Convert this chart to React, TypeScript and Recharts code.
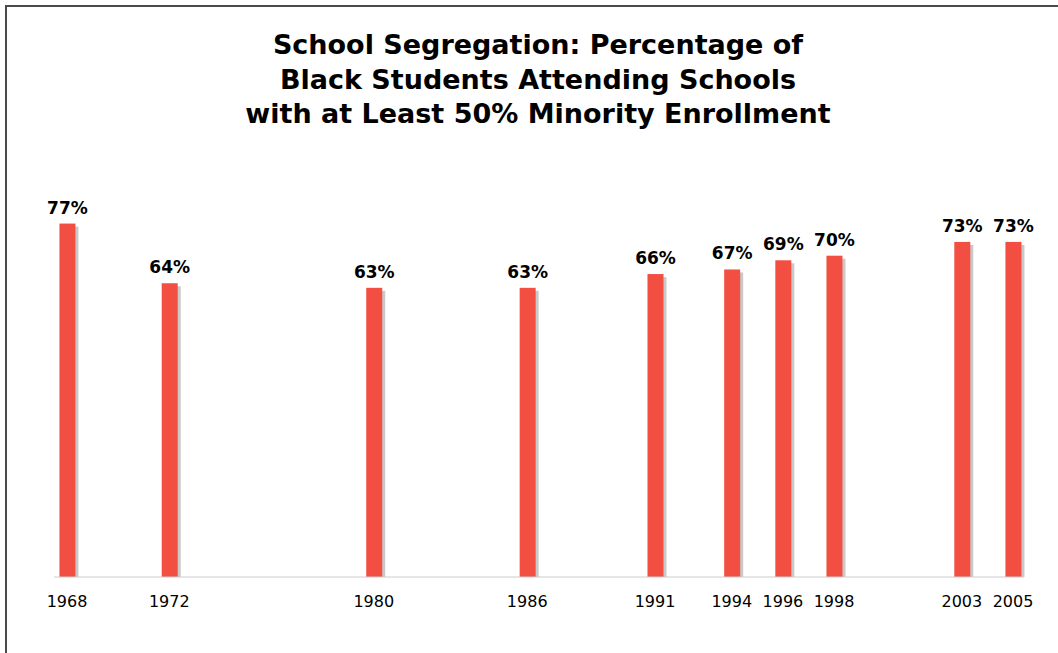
import { BarChart, Bar, XAxis, YAxis, LabelList } from "recharts";

const years = [1968, 1972, 1980, 1986, 1991, 1994, 1996, 1998, 2003, 2005];
const percents = [77, 64, 63, 63, 66, 67, 69, 70, 73, 73];
const titleLines = [
  "School Segregation: Percentage of",
  "Black Students Attending Schools",
  "with at Least 50% Minority Enrollment",
];

const data = years.map((year, i) => ({ year, pct: percents[i] }));

const font = "'DejaVu Sans', Verdana, sans-serif";

function ShadowBar(props: any) {
  const { x, y, width, height } = props;
  if (!height) return null;
  return (
    <g>
      <rect x={x + 3} y={y + 3} width={width} height={height - 3} fill="#c9c9c9" />
      <rect x={x} y={y} width={width} height={height} fill="#f24e42" />
    </g>
  );
}

export default function App() {
  return (
    <div style={{ position: "relative", width: 1058, height: 653, overflow: "hidden", background: "#fff", fontFamily: font }}>
      <style>{`body{margin:0}`}</style>
      <div
        style={{
          position: "absolute",
          left: 5,
          top: 5,
          width: 1200,
          height: 800,
          borderLeft: "2px solid #4a4a4a",
          borderTop: "2px solid #4a4a4a",
        }}
      />
      <div style={{ position: "absolute", left: 0, top: 28, width: 1076, textAlign: "center" }}>
        {titleLines.map((t) => (
          <div key={t} style={{ fontSize: 27, fontWeight: "bold", lineHeight: "34.5px", color: "#000" }}>
            {t}
          </div>
        ))}
      </div>
      <div style={{ position: "absolute", left: 0, top: 0 }}>
        <BarChart width={1058} height={653} data={data} margin={{ top: 118, right: 34, bottom: 46, left: 54 }}>
          <XAxis
            dataKey="year"
            type="number"
            domain={[1968, 2005]}
            ticks={years}
            padding={{ left: 13, right: 11 }}
            tickLine={false}
            stroke="#cccccc"
            height={30}
            tickMargin={13}
            tick={{ fill: "#000", fontSize: 16, fontFamily: font }}
          />
          <YAxis hide domain={[0, 100]} />
          <Bar dataKey="pct" barSize={16} shape={<ShadowBar />} isAnimationActive={false}>
            <LabelList
              dataKey="pct"
              position="top"
              offset={10}
              formatter={(v: any) => `${v}%`}
              style={{ fill: "#000", fontSize: 17, fontWeight: "bold", fontFamily: font }}
            />
          </Bar>
        </BarChart>
      </div>
    </div>
  );
}
